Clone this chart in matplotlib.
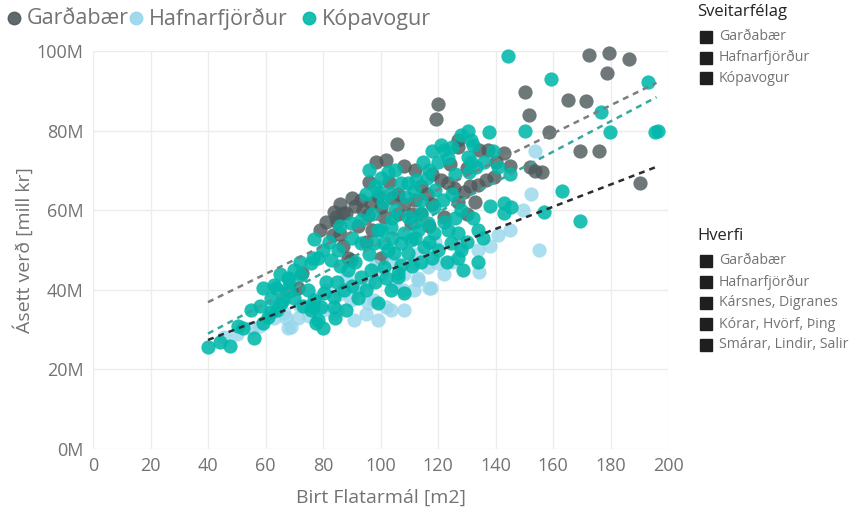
import matplotlib
matplotlib.use("Agg")
import matplotlib.pyplot as plt
from matplotlib.lines import Line2D
from matplotlib.ticker import FuncFormatter

OUT_PATH = "out.png"
FONT = ["Open Sans", "DejaVu Sans"]
W, H = 852, 515

GROUPS = ["Garðabær", "Hafnarfjörður", "Kópavogur"]
HVERFI = ["Garðabær", "Hafnarfjörður", "Kársnes, Digranes", "Kórar, Hvörf, Þing", "Smárar, Lindir, Salir"]
X_TICKS = [0, 20, 40, 60, 80, 100, 120, 140, 160, 180, 200]
Y_TICKS = [0, 20, 40, 60, 80, 100]

# Garðabær: area [m2], price [mill kr]
gardabaer_area = [172.4, 179.4, 186.4, 178.7, 150.4, 165.1, 171.4, 120.1, 119.4, 151.5, 158.5, 190.2,
                  153.6, 156, 152, 169.3, 175.9, 143.1, 134.4, 137.5, 127, 127, 105.8, 98.4,
                  121.1, 123.6, 125.7, 129.1, 134, 136.8, 139.6, 93.2, 96.7, 100.2, 83.8, 88,
                  83.4, 84.5, 86.9, 95.6, 101.2, 89.7, 68.8, 71.2, 110.6, 122.2, 85, 86,
                  88.7, 91, 104, 108, 112, 116, 118, 114, 103, 99, 92, 97,
                  106, 114, 118, 127, 131, 140, 145, 130, 124, 112, 108, 102,
                  94, 90, 86, 81, 79, 87, 95, 72.6, 100, 117, 130, 133, 111, 96, 106]
gardabaer_price = [99, 99.5, 98, 94.5, 89.7, 87.7, 87.4, 86.7, 82.9, 83.9, 79.6, 66.8,
                   69.8, 69.5, 70.8, 74.9, 74.9, 74.4, 75.1, 75.1, 77.6, 75.9, 76.6, 72.1,
                   67.6, 66.8, 65.6, 64.6, 66.3, 67.6, 68.3, 62.6, 61.8, 60.8, 59.5, 59.3,
                   53.8, 58.3, 59.3, 58.8, 58.3, 47.5, 40, 40.5, 56.8, 58.3, 57, 54,
                   48, 61, 63, 61.5, 62.5, 64, 69, 66, 67, 63.5, 56, 55,
                   59, 59, 61.5, 62, 66, 72, 71, 70.5, 71.5, 70, 71, 72.6,
                   60, 63, 61.5, 57, 55, 51, 52, 44.2, 48, 56, 59, 62, 59, 67, 64]

# Hafnarfjörður
hafnar_area = [45.4, 54.8, 61.8, 66.3, 67, 67.7, 71.2, 68.8, 75, 80, 83.8, 85,
               89.7, 90.7, 95.6, 99.1, 103.7, 108.2, 97.7, 102, 105, 107.9, 111.7, 113.1,
               116.9, 111.7, 116.6, 120.1, 113, 117.6, 122, 125, 128, 134.4, 134, 141,
               149.7, 152.5, 153.6, 155, 145, 138, 96, 92, 86, 78, 72, 63,
               58, 50, 100, 104, 98, 108, 119, 113, 88, 81, 76, 95]
hafnar_price = [28.1, 30.4, 35.7, 34.2, 33, 30.4, 33, 30.7, 33.5, 35, 34.2, 35,
                37.4, 32.4, 36.7, 32.4, 34.9, 34.9, 37.4, 35.7, 41, 40, 40, 42.5,
                40.5, 46.7, 45.7, 46.7, 43, 40.5, 44, 47, 51, 44.5, 50, 53.8,
                60, 64.1, 74.9, 50, 55, 51, 42, 40, 39, 38, 36, 33,
                31, 29, 44, 47, 46, 44, 52, 49, 43, 40, 36.5, 34]

# Kópavogur
kopa_area = [144.2, 159.2, 193, 176.6, 196.5, 195.5, 179.8, 150.4, 137.9, 130.5, 163, 169.3,
             157, 144.9, 143.1, 145.5, 141, 143.1,
             121.1, 122.2, 123.6, 131.6, 132.3, 130.5, 131.6, 133.3, 130.9, 114.8, 116.9, 112.4,
             109.6, 111.7, 108.9, 114.1, 118.7, 121.8, 102.6, 99.5, 103.7, 107.2,
             76.8, 89.7, 93.2, 85.2, 82.7, 78.2, 75.7, 93.2, 97.7, 102.6, 107.2, 88.7,
             93.2, 96.7, 101.2, 106.1, 59.3, 62.8, 67.7, 68.1, 66, 74.7, 76.8, 79.2,
             80.3, 83.8, 87.3, 75.7, 78.2, 83.8, 99.1, 103.7, 108.2, 106.1, 54.8, 60.7,
             59.3, 61.8, 109.6, 114.1, 116.6, 113.1, 118.7, 123.6, 127, 124.6, 128.1, 120.1,
             115.2, 110.6, 109.6, 107.2, 134, 135.8, 128.8, 134, 99.1, 103.7, 108.2, 101.2,
             104.7, 40.1, 47.8, 50.6, 52, 65.3, 63.5, 68, 72.2, 76.4, 77.5, 76.4,
             95, 98, 101, 105, 86, 90, 97, 104, 112, 117, 122, 126,
             128, 125, 119, 116, 120, 126, 136, 139, 128, 125, 118, 105,
             100, 96, 82, 80, 72, 70, 65, 62, 58, 70, 73, 85,
             90, 95, 98, 102, 111, 114, 118, 123, 80, 84, 88, 92,
             56, 44, 100, 112, 130, 127, 67, 64, 138, 132, 104, 96,
             91, 86, 81]
kopa_price = [98.7, 93, 92.2, 84.7, 80, 79.6, 79.6, 79.9, 79.6, 79.9, 64.8, 57.3,
              59.5, 69.1, 61.8, 60.8, 70.9, 59.3,
              76.4, 75.1, 73.1, 77.6, 76.4, 73.4, 72.1, 70.9, 69.6, 72.1, 70.1, 67.6,
              66.8, 65.1, 63.3, 62.6, 60.8, 62.6, 69.6, 64.6, 64.3, 66.8,
              52.8, 56.8, 57.5, 50, 47.5, 48, 46.7, 51.8, 51.8, 50, 51.8, 45,
              43.2, 45, 45.7, 44.2, 40.5, 41.2, 43, 40, 37.4, 40, 37.4, 35.7,
              39.2, 38.2, 40, 34.9, 32.4, 35.7, 36.7, 40, 39.2, 43.2, 34.9, 33.2,
              31.7, 34.4, 58.3, 59.3, 56.8, 55, 54.3, 55, 54.3, 51.8, 50, 50,
              50.8, 52.5, 49.2, 46.2, 55, 53, 45, 47, 55, 55.8, 54.3, 51.8,
              49.2, 25.6, 25.9, 31, 30.4, 36.7, 40.5, 42.5, 43.7, 35.7, 31.6, 48,
              64, 66, 62, 60, 56, 53, 59, 58, 57, 52, 57, 58,
              60, 64, 65, 68, 72, 69, 72, 75, 79, 76, 75, 70,
              68, 70, 52, 50, 47, 45, 44, 38, 36, 38, 36, 42,
              41, 40, 42, 43, 46, 47, 48, 47, 30.5, 33, 35, 38,
              28, 27, 55, 53, 52, 48, 40, 35, 61, 58, 53, 49,
              47, 46, 42]

# trend lines: start/end area and price
trend_area = [40, 196]
trend_gardabaer = [36.9, 92.0]
trend_kopa = [29.0, 88.4]
trend_hafnar = [27.4, 70.9]

COLORS = {"Garðabær": "#4f5a5c", "Hafnarfjörður": "#96d6ea", "Kópavogur": "#01b8aa"}
TREND_COLORS = {"Garðabær": "#7b7f80", "Hafnarfjörður": "#2a2d30", "Kópavogur": "#35a99f"}
TEXT_GRAY = "#737373"


def millions(value: float, _pos: int) -> str:
    return f"{value:.0f}M"


def fx(px: float) -> float:
    return px / W


def fy(py: float) -> float:
    return 1 - py / H


def draw_points(ax: plt.Axes) -> None:
    series = [
        ("Garðabær", gardabaer_area, gardabaer_price, 0.82),
        ("Hafnarfjörður", hafnar_area, hafnar_price, 0.8),
        ("Kópavogur", kopa_area, kopa_price, 0.88),
    ]
    for name, xs, ys, alpha in series:
        ax.scatter(xs, ys, s=105, color=COLORS[name], alpha=alpha, linewidths=0,
                   clip_on=False, zorder=3)


def draw_trends(ax: plt.Axes) -> None:
    for name, ys in [("Garðabær", trend_gardabaer), ("Kópavogur", trend_kopa),
                     ("Hafnarfjörður", trend_hafnar)]:
        ax.plot(trend_area, ys, linestyle=(0, (2.4, 2.0)), linewidth=1.8,
                color=TREND_COLORS[name], zorder=4)


def add_top_legend(fig: plt.Figure) -> None:
    marker_x = [14, 136, 309]
    for name, mx in zip(GROUPS, marker_x):
        fig.add_artist(Line2D([fx(mx)], [fy(18)], marker="o", linestyle="", markersize=9,
                              color=COLORS[name], alpha=0.9, transform=fig.transFigure))
        fig.text(fx(mx + 13), fy(19), name, family=FONT, fontsize=15.5, color=TEXT_GRAY,
                 ha="left", va="center")


def add_side_legend(fig: plt.Figure, title: str, labels: list[str], title_y: float,
                    first_y: float, step: float) -> None:
    fig.text(fx(697), fy(title_y), title, family=FONT, fontsize=12, color="#252423",
             ha="left", va="center")
    for i, label in enumerate(labels):
        y = first_y + i * step
        fig.add_artist(Line2D([fx(706)], [fy(y)], marker="s", linestyle="", markersize=8.5,
                              color="#1f1f1f", transform=fig.transFigure))
        fig.text(fx(719), fy(y), label, family=FONT, fontsize=10.2, color=TEXT_GRAY,
                 ha="left", va="center")


def main() -> None:
    fig = plt.figure(figsize=(W / 100, H / 100), dpi=100)
    ax = fig.add_axes([fx(93), fy(449), fx(668) - fx(93), fy(51) - fy(449)])

    draw_points(ax)
    draw_trends(ax)

    ax.set_xlim(0, 200)
    ax.set_ylim(0, 100)
    ax.set_xticks(X_TICKS)
    ax.set_yticks(Y_TICKS)
    ax.yaxis.set_major_formatter(FuncFormatter(millions))
    ax.grid(True, color="#ececec", linewidth=1.0, zorder=0)
    ax.set_axisbelow(True)
    for spine in ax.spines.values():
        spine.set_visible(False)
    ax.tick_params(length=0, labelsize=13, labelcolor=TEXT_GRAY)
    ax.tick_params(axis="x", pad=6)
    ax.tick_params(axis="y", pad=7)
    for label in ax.get_xticklabels() + ax.get_yticklabels():
        label.set_family(FONT)

    ax.set_xlabel("Birt Flatarmál [m2]", family=FONT, fontsize=14, color=TEXT_GRAY, labelpad=10)
    ax.set_ylabel("Ásett verð [mill kr]", family=FONT, fontsize=14, color=TEXT_GRAY, labelpad=2)

    add_top_legend(fig)
    add_side_legend(fig, "Sveitarfélag", GROUPS, 12, 37, 20.5)
    add_side_legend(fig, "Hverfi", HVERFI, 236, 261, 21)

    fig.savefig(OUT_PATH, dpi=100)
    plt.close(fig)


if __name__ == "__main__":
    main()
